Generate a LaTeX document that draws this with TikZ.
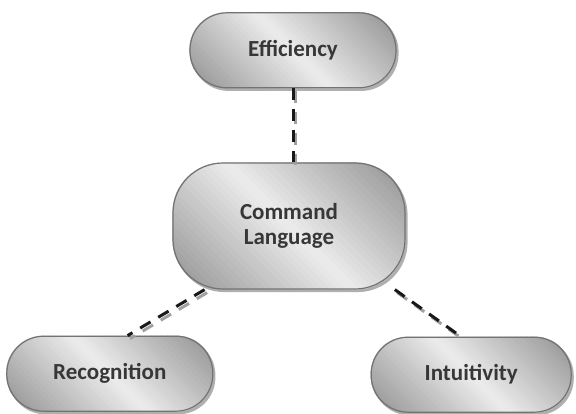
\documentclass[tikz,border=0pt]{standalone}
\usepackage{fontspec}
\setmainfont{Carlito}
\usetikzlibrary{positioning,backgrounds}
\definecolor{textColor}{RGB}{55,55,55}
\definecolor{edgeColor}{RGB}{115,115,115}
\definecolor{shadeDark}{RGB}{145,145,145}
\definecolor{shadeLight}{RGB}{236,236,236}
\definecolor{dropColor}{RGB}{175,175,175}
\definecolor{linkColor}{RGB}{25,25,25}
\definecolor{linkShadow}{RGB}{160,160,160}
\newcommand{\boxfont}{\fontsize{23}{25}\selectfont\bfseries}
% shadow + diagonal grey gradient behind a pill node: name, corner radius, half extent
\newcommand{\pillshade}[3]{%
  \fill[dropColor, rounded corners=#2] ([xshift=2pt,yshift=-2.5pt]#1.south west) rectangle ([xshift=2pt,yshift=-2.5pt]#1.north east);
  \begin{scope}
    \clip[rounded corners=#2] (#1.south west) rectangle (#1.north east);
    \begin{scope}[shift={(#1.center)}, rotate=45]
      \foreach \i in {-25,...,24}{
        \pgfmathsetmacro\mix{100*abs(\i+0.5)/25}
        \fill[shadeDark!\mix!shadeLight] (\i*#3/25, -200pt) rectangle ({(\i+1)*#3/25+0.6pt}, 200pt);
      }
    \end{scope}
  \end{scope}}

\begin{document}
\begin{tikzpicture}[
        pill/.style={draw=edgeColor, line width=1.2pt, rounded corners=37pt, minimum width=206pt, minimum height=75pt,
          align=center, font=\boxfont, text=textColor},
        bigpill/.style={pill, rounded corners=50pt, minimum width=232pt, minimum height=126pt},
        link/.style={linkColor, line width=3pt, dash pattern=on 12pt off 9pt},
        linkshade/.style={linkShadow, line width=3pt, dash pattern=on 12pt off 9pt, transform canvas={xshift=2.5pt, yshift=-3pt}}
      ]
      \useasboundingbox (0,0) rectangle (576pt,-413pt);
      \node[bigpill] (cmd) at (289pt,-226pt) {Command\\ Language};
      \node[pill, above=74pt of cmd, xshift=4pt] (eff) {Efficiency};
      \node[pill, below left=46pt and -41pt of cmd] (rec) {Recognition};
      \node[pill, minimum width=200pt, below right=47pt and -35pt of cmd] (intu) {Intuitivity};

      \begin{scope}[on background layer]
        \pillshade{cmd}{50pt}{127pt}
        \pillshade{eff}{37pt}{99pt}
        \pillshade{rec}{37pt}{99pt}
        \pillshade{intu}{37pt}{97pt}
      \end{scope}

      \draw[linkshade] (eff.south) -- (eff.south |- cmd.north);
      \draw[link] (eff.south) -- (eff.south |- cmd.north);
      \draw[linkshade] (cmd.217) -- (rec.65);
      \draw[link] (cmd.217) -- (rec.65);
      \draw[linkshade] (cmd.329) -- (intu.105);
      \draw[link] (cmd.329) -- (intu.105);
    \end{tikzpicture}
\end{document}
